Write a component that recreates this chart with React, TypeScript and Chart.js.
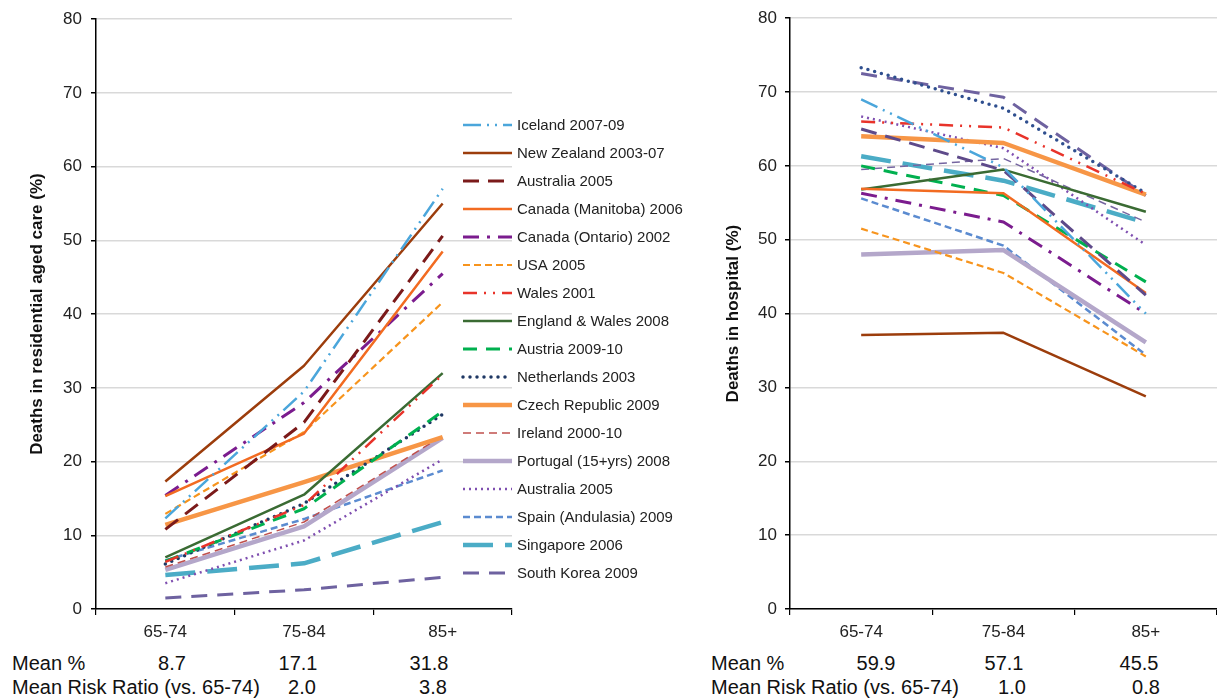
import React, { useEffect, useRef } from 'react';
import { Chart, registerables } from 'chart.js';

Chart.register(...registerables);

const FONT = '"Liberation Sans", Arial, Helvetica, sans-serif';

// ---------- categories & labels ----------
const categories = ['65-74', '75-84', '85+'];
const seriesLabels = [
  'Iceland 2007-09',
  'New Zealand 2003-07',
  'Australia 2005',
  'Canada (Manitoba) 2006',
  'Canada (Ontario) 2002',
  'USA 2005',
  'Wales 2001',
  'England & Wales 2008',
  'Austria 2009-10',
  'Netherlands 2003',
  'Czech Republic 2009',
  'Ireland 2000-10',
  'Portugal (15+yrs) 2008',
  'Australia 2005',
  'Spain (Andulasia) 2009',
  'Singapore 2006',
  'South Korea 2009',
];
const yTicks = [0, 10, 20, 30, 40, 50, 60, 70, 80];

// ---------- residential aged care (%) ----------
const careIceland = [12.3, 29.5, 57];
const careNewZealand = [17.3, 33, 55];
const careAustraliaDash = [10.8, 25.3, 50.6];
const careManitoba = [15.3, 23.8, 48.5];
const careOntario = [15.4, 28, 45.5];
const careUSA = [12.9, 24, 41.6];
const careWales = [6.4, 14.1, 31.8];
const careEnglandWales = [7, 15.5, 32];
const careAustria = [6.5, 13.6, 26.8];
const careNetherlands = [6.1, 14.3, 26.4];
const careCzech = [11.4, 17.2, 23.3];
const careIreland = [5.7, 11.8, 23.5];
const carePortugal = [5.3, 11.2, 23.2];
const careAustraliaDot = [3.5, 9.3, 20.3];
const careSpain = [6.6, 12.2, 18.8];
const careSingapore = [4.6, 6.2, 11.8];
const careSouthKorea = [1.5, 2.6, 4.3];

// ---------- hospital (%) ----------
const hospIceland = [69, 59.8, 40];
const hospNewZealand = [37.1, 37.4, 28.8];
const hospAustraliaDash = [65, 59.4, 42.5];
const hospManitoba = [56.9, 56.3, 42.8];
const hospOntario = [56.3, 52.4, 40];
const hospUSA = [51.5, 45.5, 34.2];
const hospWales = [66, 65.2, 56.2];
const hospEnglandWales = [56.8, 59.5, 53.8];
const hospAustria = [60, 56, 44.3];
const hospNetherlands = [73.3, 67.8, 56.3];
const hospCzech = [64, 63.1, 56.1];
const hospIreland = [59.5, 61, 52.4];
const hospPortugal = [48, 48.6, 36.1];
const hospAustraliaDot = [66.7, 62.4, 49.3];
const hospSpain = [55.6, 49.2, 34.4];
const hospSingapore = [61.3, 58, 52.3];
const hospSouthKorea = [72.5, 69.3, 56];

// ---------- summary rows ----------
const careMeans = ['8.7', '17.1', '31.8'];
const careRatios = ['2.0', '3.8'];
const hospMeans = ['59.9', '57.1', '45.5'];
const hospRatios = ['1.0', '0.8'];

const careSeries = [
  careIceland, careNewZealand, careAustraliaDash, careManitoba, careOntario, careUSA,
  careWales, careEnglandWales, careAustria, careNetherlands, careCzech, careIreland,
  carePortugal, careAustraliaDot, careSpain, careSingapore, careSouthKorea,
];
const hospSeries = [
  hospIceland, hospNewZealand, hospAustraliaDash, hospManitoba, hospOntario, hospUSA,
  hospWales, hospEnglandWales, hospAustria, hospNetherlands, hospCzech, hospIreland,
  hospPortugal, hospAustraliaDot, hospSpain, hospSingapore, hospSouthKorea,
];

// ---------- styles ----------
type Sty = { color: string; width: number; dash: number[]; cap?: CanvasLineCap };
const styles: Sty[] = [
  { color: '#4BA6DB', width: 2.5, dash: [18, 6, 2, 6, 2, 6] },
  { color: '#9C3D0C', width: 2.5, dash: [] },
  { color: '#7B1A1A', width: 3, dash: [16, 9] },
  { color: '#F26B21', width: 2.5, dash: [] },
  { color: '#7B1C8E', width: 3, dash: [16, 8, 3, 8] },
  { color: '#F7941D', width: 2.2, dash: [7, 4] },
  { color: '#E8332A', width: 2.5, dash: [14, 7, 2, 7, 2, 7] },
  { color: '#3A6B33', width: 2.5, dash: [] },
  { color: '#00B04F', width: 3, dash: [14, 9] },
  { color: '#1F3864', width: 3.5, dash: [0, 7], cap: 'round' },
  { color: '#F79646', width: 4.5, dash: [] },
  { color: '#C0504D', width: 1.5, dash: [8, 5] },
  { color: '#B4A7CA', width: 4.5, dash: [] },
  { color: '#7F4FB0', width: 2.5, dash: [2, 4] },
  { color: '#5B8BD0', width: 2.5, dash: [7, 4] },
  { color: '#4BACC6', width: 4.5, dash: [30, 12] },
  { color: '#6E62A0', width: 3, dash: [16, 10] },
];
// hospital chart uses slightly different hues for two series
const hospColorOverride: Record<number, string> = { 2: '#5E4A8A', 11: '#7565A0', 9: '#2F4F8F' };

const legendPlugin = {
  id: 'customLegend',
  afterDraw(chart: any, _args: any, opts: any) {
    if (!opts || !opts.show) return;
    const ctx: CanvasRenderingContext2D = chart.ctx;
    ctx.save();
    chart.data.datasets.forEach((ds: any, i: number) => {
      const y = opts.top + i * opts.spacing;
      ctx.beginPath();
      ctx.strokeStyle = ds.borderColor;
      ctx.lineWidth = ds.borderWidth;
      ctx.setLineDash(ds.borderDash || []);
      ctx.lineCap = ds.borderCapStyle || 'butt';
      ctx.moveTo(opts.x, y);
      ctx.lineTo(opts.x + opts.len, y);
      ctx.stroke();
      ctx.setLineDash([]);
      ctx.fillStyle = '#222';
      ctx.font = `15px ${FONT}`;
      ctx.textBaseline = 'middle';
      ctx.textAlign = 'left';
      ctx.fillText(ds.label, opts.x + opts.len + 5, y + 1);
    });
    ctx.restore();
  },
};

type PanelProps = {
  series: number[][];
  colorOverride?: Record<number, string>;
  yTitle: string;
  width: number;
  height: number;
  yAxisWidth: number;
  rightPad: number;
  titlePad: number;
  tickPad: number;
  legend?: any;
};

function Panel(p: PanelProps) {
  const ref = useRef<HTMLCanvasElement>(null);
  useEffect(() => {
    if (!ref.current) return;
    const datasets = p.series.map((vals, i) => {
      const s = styles[i];
      return {
        label: seriesLabels[i],
        data: vals,
        borderColor: (p.colorOverride && p.colorOverride[i]) || s.color,
        borderWidth: s.width,
        borderDash: s.dash,
        borderCapStyle: s.cap || 'butt',
        borderJoinStyle: 'round',
        pointRadius: 0,
        pointHoverRadius: 0,
        tension: 0,
        fill: false,
      };
    });
    // draw thick ones first? keep legend order but reverse drawing order so first listed is on top
    const chart = new Chart(ref.current, {
      type: 'line',
      data: { labels: categories, datasets: datasets as any },
      options: {
        responsive: false,
        animation: false,
        events: [],
        layout: { padding: { left: 0, right: p.rightPad, top: 18, bottom: 0 } },
        plugins: {
          legend: { display: false },
          tooltip: { enabled: false },
          customLegend: p.legend || { show: false },
        } as any,
        scales: {
          x: {
            type: 'category',
            offset: true,
            grid: {
              offset: true,
              drawOnChartArea: false,
              drawTicks: true,
              tickLength: 6,
              color: '#000',
              tickColor: '#000',
              lineWidth: 1.2,
            },
            border: { display: true, color: '#000', width: 1.5 },
            ticks: { color: '#222', font: { family: FONT, size: 17 }, padding: 7, maxRotation: 0 },
            afterFit: (s: any) => { s.height = 31; },
          },
          y: {
            min: 0,
            max: 80,
            afterBuildTicks: (s: any) => { s.ticks = yTicks.map((v) => ({ value: v })); },
            ticks: { color: '#222', font: { family: FONT, size: 17 }, padding: p.tickPad },
            grid: {
              color: '#d9d9d9',
              lineWidth: 1.5,
              tickLength: 5,
              tickColor: '#000',
              drawTicks: true,
            },
            border: { display: true, color: '#000', width: 1.5 },
            title: {
              display: true,
              text: p.yTitle,
              color: '#111',
              font: { family: FONT, size: 17, weight: 'bold' },
              padding: { top: p.titlePad, bottom: 0 },
            },
            afterFit: (s: any) => { s.width = p.yAxisWidth; },
          },
        },
      } as any,
      plugins: [legendPlugin],
    });
    return () => chart.destroy();
  }, []);
  return <canvas ref={ref} width={p.width} height={p.height} style={{ display: 'block', width: p.width, height: p.height }} />;
}

const txt: React.CSSProperties = {
  position: 'absolute',
  fontFamily: FONT,
  fontSize: 20,
  color: '#111',
  whiteSpace: 'nowrap',
  lineHeight: '23px',
};

function Stat({ x, y, text, left }: { x: number; y: number; text: string; left?: boolean }) {
  return (
    <div style={{ ...txt, left: x, top: y, transform: left ? undefined : 'translateX(-50%)' }}>{text}</div>
  );
}

export default function App() {
  const careMeanX = [172, 298, 429];
  const careRatioX = [302, 433];
  const hospMeanX = [876, 1004, 1139];
  const hospRatioX = [1012, 1146];
  return (
    <div style={{ position: 'absolute', left: 0, top: 0, width: 1217, height: 699, background: '#fff', overflow: 'hidden' }}>
      <div style={{ position: 'absolute', left: 0, top: 0 }}>
        <Panel
          series={careSeries}
          yTitle="Deaths in residential aged care (%)"
          width={700}
          height={640}
          yAxisWidth={96}
          rightPad={188}
          titlePad={27}
          tickPad={9}
          legend={{ show: true, x: 463, len: 49, top: 125, spacing: 28 }}
        />
      </div>
      <div style={{ position: 'absolute', left: 700, top: 0 }}>
        <Panel
          series={hospSeries}
          colorOverride={hospColorOverride}
          yTitle="Deaths in hospital (%)"
          width={517}
          height={640}
          yAxisWidth={90}
          rightPad={0}
          titlePad={23}
          tickPad={8}
        />
      </div>
      <Stat x={12} y={652} text="Mean %" left />
      <Stat x={12} y={676} text="Mean Risk Ratio (vs. 65-74)" left />
      {careMeans.map((m, i) => <Stat key={'cm' + i} x={careMeanX[i]} y={652} text={m} />)}
      {careRatios.map((m, i) => <Stat key={'cr' + i} x={careRatioX[i]} y={676} text={m} />)}
      <Stat x={711} y={652} text="Mean %" left />
      <Stat x={711} y={676} text="Mean Risk Ratio (vs. 65-74)" left />
      {hospMeans.map((m, i) => <Stat key={'hm' + i} x={hospMeanX[i]} y={652} text={m} />)}
      {hospRatios.map((m, i) => <Stat key={'hr' + i} x={hospRatioX[i]} y={676} text={m} />)}
    </div>
  );
}
